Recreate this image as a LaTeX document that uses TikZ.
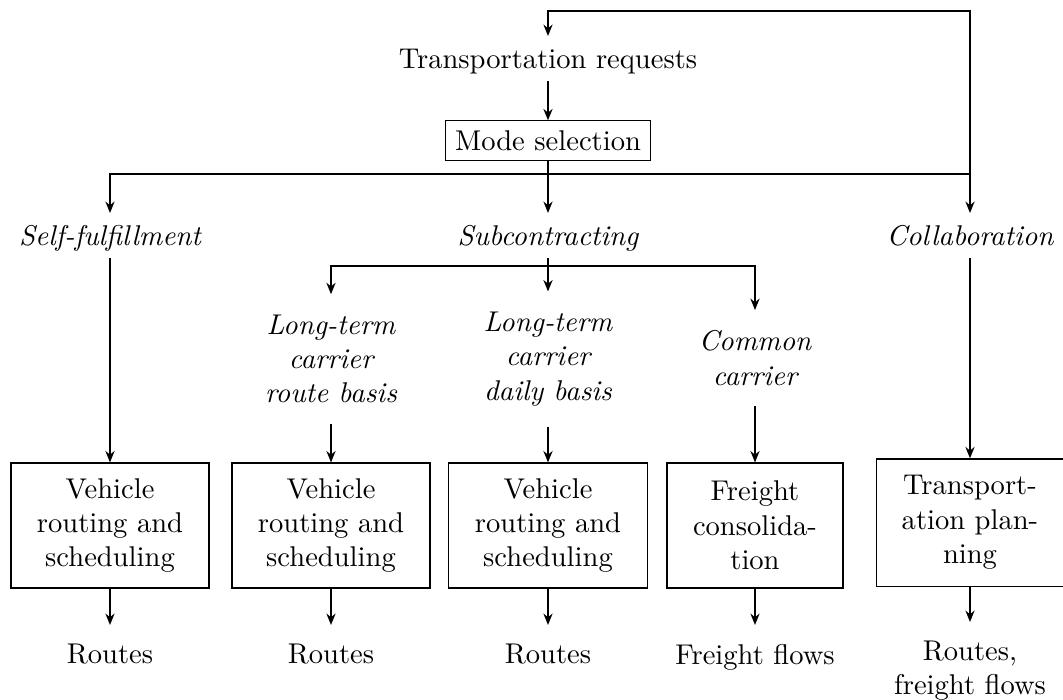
\documentclass[tikz,border=0pt]{standalone}
\usepackage{fontspec}
\usetikzlibrary{arrows.meta}

\tikzset{
  conn/.style={thick},
  arr/.style={thick, -{Stealth[length=4pt,width=3.2pt]}},
  label/.style={font=\itshape, inner sep=4pt, text height=7pt, text depth=0.5pt, anchor=base},
  plain/.style={inner sep=4pt, text height=7pt, text depth=0.5pt, anchor=base},
  option/.style={font=\itshape, align=center, inner xsep=3pt, inner ysep=7pt},
  task/.style={draw, thin, align=center, minimum height=43.75pt},
  result/.style={align=center, inner xsep=3pt, inner ysep=6.5pt, anchor=north},
}

\begin{document}
\begin{tikzpicture}[x=0.35pt, y=-0.35pt]
  \useasboundingbox (0,0) rectangle (1063,700);

  % top of the decision tree
  \node[plain] (treq) at (548,68) {Transportation requests};
  \node[draw, thin] (mode) at (548,140.5) {Mode selection};

  % fulfilment options
  \node[label] (self) at (110,245) {Self-fulfillment};
  \node[label] (sub)  at (548,245) {Subcontracting};
  \node[label] (coll) at (970,245) {Collaboration};

  % subcontracting variants
  \node[option] (lt1) at (331,359) {Long-term\\carrier\\route basis};
  \node[option] (lt2) at (548,359) {Long-term\\carrier\\daily basis};
  \node[option] (cc)  at (755,358) {Common\\carrier};

  % planning tasks
  \node[task, minimum width=69.3pt] (b1) at (110,525.5) {Vehicle\\routing and\\scheduling};
  \node[task, minimum width=69.3pt] (b2) at (331,525.5) {Vehicle\\routing and\\scheduling};
  \node[task, minimum width=69.6pt] (b3) at (548,525.5) {Vehicle\\routing and\\scheduling};
  \node[task, minimum width=61.6pt] (b4) at (755,525.5) {Freight\\consolida-\\tion};
  \node[task, minimum width=65.2pt, minimum height=44.5pt] (b5) at (970,522.5) {Transport-\\ation plan-\\ning};

  % planning results
  \node[result] (o1) at (110,625) {Routes};
  \node[result] (o2) at (331,625) {Routes};
  \node[result] (o3) at (548,625) {Routes};
  \node[result] (o4) at (755,625) {Freight flows};
  \node[result] (o5) at (970,622) {Routes,\\freight flows};

  % junction points of the branching lines
  \coordinate (mj) at (548,174);
  \coordinate (cj) at (970,174);
  \coordinate (fb) at (970,11);
  \coordinate (sj) at (548,266);

  % connectors
  \draw[arr] (treq) -- (mode);
  \draw[arr] (mode) -- (sub);
  \draw[arr] (mj) -| (self);
  \draw[arr] (mj) -| (coll);
  \draw[arr] (cj) -- (fb) -| (treq);

  \draw[conn] (sub) -- (sj);
  \draw[arr] (sj) -| (lt1);
  \draw[arr] (sj) -- (lt2);
  \draw[arr] (sj) -| (cc);

  \draw[arr] (self) -- (b1);
  \draw[arr] (lt1) -- (b2);
  \draw[arr] (lt2) -- (b3);
  \draw[arr] (cc) -- (b4);
  \draw[arr] (coll) -- (b5);

  \draw[arr] (b1) -- (o1);
  \draw[arr] (b2) -- (o2);
  \draw[arr] (b3) -- (o3);
  \draw[arr] (b4) -- (o4);
  \draw[arr] (b5) -- (o5);
\end{tikzpicture}
\end{document}
